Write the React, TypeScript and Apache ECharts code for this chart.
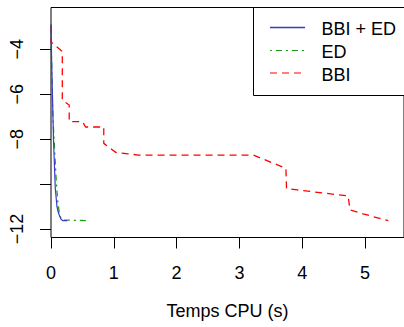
import React, { useEffect, useRef } from "react";
import * as echarts from "echarts";

const seriesNames = ["BBI + ED", "ED", "BBI"];
const seriesColors = ["#3a3ac8", "#11a011", "#ff0000"];
const seriesDash: (number[] | null)[] = [null, [2, 4, 6, 4], [7, 5]];

const bbiEdX = [0, 0.01, 0.025, 0.04, 0.068, 0.095, 0.12, 0.16, 0.19, 0.26];
const bbiEdY = [-2.9, -4.5, -6.26, -8.04, -10.19, -11.0, -11.3, -11.57, -11.63, -11.63];

const edX = [0, 0.015, 0.03, 0.05, 0.08, 0.105, 0.14, 0.18, 0.6];
const edY = [-2.9, -5.3, -7.0, -8.04, -9.67, -10.7, -11.42, -11.6, -11.63];

const bbiX = [0, 0, 0.025, 0.18, 0.18, 0.21, 0.29, 0.29, 0.5, 0.55, 0.84, 0.84, 1.03, 1.39, 3.22, 3.74, 3.75, 3.92, 4.73, 4.76, 4.97, 5.37];
const bbiY = [-2.95, -3.7, -3.73, -4.1, -6.26, -6.33, -6.48, -7.22, -7.22, -7.46, -7.46, -8.19, -8.59, -8.71, -8.71, -9.3, -10.2, -10.26, -10.53, -11.15, -11.33, -11.63];

const xTicks = [0, 1, 2, 3, 4, 5];
const yTicks = [-12, -10, -8, -6, -4];
const yLabels = [-12, -8, -6, -4];

const pairs = (xs: number[], ys: number[]) => xs.map((x, i) => [x, ys[i]]);

const FONT = "'Liberation Sans', Arial, Helvetica, sans-serif";

export default function App() {
  const ref = useRef<HTMLDivElement>(null);
  useEffect(() => {
    const chart = echarts.init(ref.current!, null, { renderer: "svg" });
    const rowY = [27.5, 50.5, 73];
    const legendChildren: any[] = [
      {
        type: "rect",
        shape: { x: 253.5, y: 7.5, width: 200, height: 88 },
        style: { fill: "#fff", stroke: "#000", lineWidth: 1 },
      },
    ];
    seriesNames.forEach((name, i) => {
      const style: any = { stroke: seriesColors[i], lineWidth: i === 0 ? 1.5 : 1.2 };
      if (seriesDash[i]) style.lineDash = seriesDash[i];
      legendChildren.push({
        type: "line",
        shape: { x1: 270, y1: rowY[i], x2: 305, y2: rowY[i] },
        style,
      });
      legendChildren.push({
        type: "text",
        x: 321.5,
        y: rowY[i] + 1.5,
        style: { text: name, fontFamily: FONT, fontSize: 18, fill: "#000", verticalAlign: "middle", align: "left" },
      });
    });
    chart.setOption({
      animation: false,
      backgroundColor: "#fff",
      textStyle: { fontFamily: FONT },
      grid: {
        left: 51,
        right: -3,
        top: 7.5,
        bottom: 89.5,
        show: true,
        borderColor: "#000",
        borderWidth: 1,
        backgroundColor: "transparent",
      },
      graphic: [{ type: "group", z: 100, children: legendChildren }],
      xAxis: {
        type: "value",
        min: 0,
        max: 5.62,
        name: "Temps CPU (s)",
        nameLocation: "middle",
        nameGap: 64,
        nameTextStyle: { fontFamily: FONT, fontSize: 18, color: "#000" },
        axisLine: { show: false },
        splitLine: { show: false },
        axisTick: { show: true, length: 11, customValues: xTicks, lineStyle: { color: "#000" } },
        axisLabel: { customValues: xTicks, margin: 26, fontFamily: FONT, fontSize: 18, color: "#000" },
      },
      yAxis: {
        type: "value",
        min: -12.38,
        max: -2.14,
        axisLine: { show: false },
        splitLine: { show: false },
        axisTick: { show: true, length: 11, customValues: yTicks, lineStyle: { color: "#000" } },
        axisLabel: {
          customValues: yLabels,
          rotate: 90,
          margin: 25,
          fontFamily: FONT,
          fontSize: 18,
          color: "#000",
          formatter: (v: number) => String(v).replace("-", "\u2212"),
        },
      },
      series: [
        {
          name: seriesNames[0],
          type: "line",
          data: pairs(bbiEdX, bbiEdY),
          showSymbol: false,
          symbol: "none",
          z: 4,
          lineStyle: { color: seriesColors[0], width: 1.2 },
          itemStyle: { color: seriesColors[0] },
        },
        {
          name: seriesNames[1],
          type: "line",
          data: pairs(edX, edY),
          showSymbol: false,
          symbol: "none",
          z: 3,
          lineStyle: { color: seriesColors[1], width: 1.2, type: seriesDash[1] },
          itemStyle: { color: seriesColors[1] },
        },
        {
          name: seriesNames[2],
          type: "line",
          data: pairs(bbiX, bbiY),
          showSymbol: false,
          symbol: "none",
          z: 2,
          lineStyle: { color: seriesColors[2], width: 1.3, type: seriesDash[2] },
          itemStyle: { color: seriesColors[2] },
        },
      ],
    });
    return () => chart.dispose();
  }, []);
  return <div ref={ref} style={{ width: 404, height: 327, position: "fixed", left: 0, top: 0 }} />;
}
